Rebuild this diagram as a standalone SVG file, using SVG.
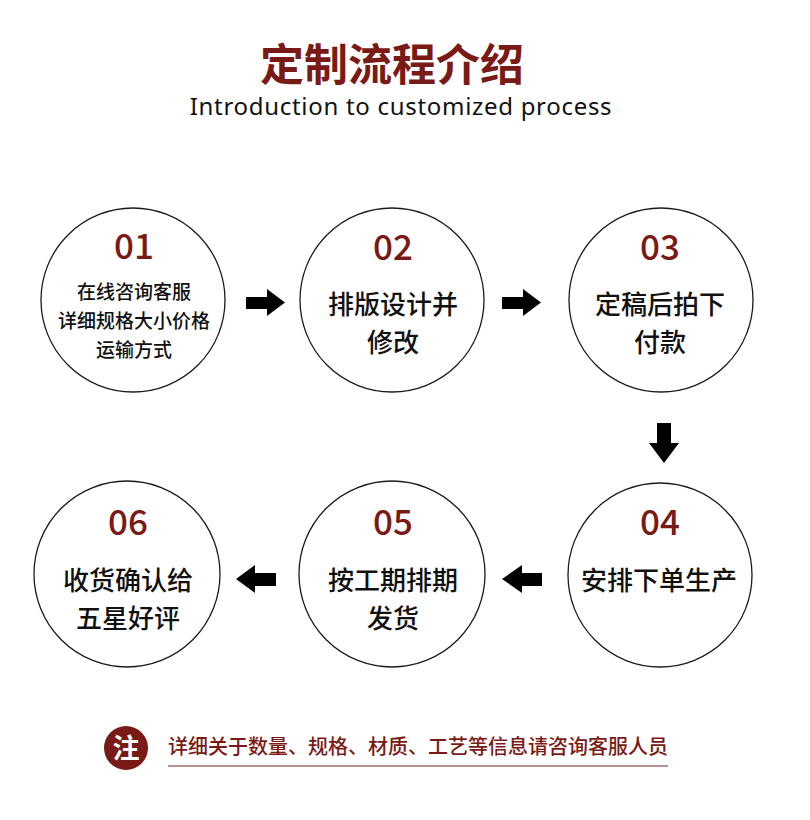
<svg xmlns="http://www.w3.org/2000/svg" width="810" height="820" viewBox="0 0 810 820">
<style>
.circ{fill:#fff;stroke:#1a1a1a;stroke-width:1.3}
.num{font-family:"Noto Sans CJK SC",sans-serif;font-size:35px;fill:#7a1a16;text-anchor:middle;font-weight:500}
.t1{font-family:"Noto Sans CJK SC",sans-serif;font-size:19px;fill:#111;text-anchor:middle;font-weight:500}
.t2{font-family:"Noto Sans CJK SC",sans-serif;font-size:26px;fill:#111;text-anchor:middle;font-weight:500}
.arr{fill:#000}
</style>
<rect width="810" height="820" fill="#fff"/>
<text x="392" y="81" font-family="Noto Sans CJK SC, sans-serif" font-size="44" font-weight="700" fill="#7a1a16" text-anchor="middle">定制流程介绍</text>
<text x="401" y="115" font-family="Noto Sans, sans-serif" font-size="24" letter-spacing="0.7" fill="#111" text-anchor="middle">Introduction to customized process</text>

<g id="node01">
<circle class="circ" cx="133" cy="300" r="92"/>
<text class="num" x="134" y="259">01</text>
<text class="t1" x="134" y="299">在线咨询客服</text>
<text class="t1" x="134" y="328">详细规格大小价格</text>
<text class="t1" x="134" y="357">运输方式</text>
</g>
<g id="node02">
<circle class="circ" cx="392" cy="300" r="92"/>
<text class="num" x="393" y="260">02</text>
<text class="t2" x="393" y="314">排版设计并</text>
<text class="t2" x="393" y="352">修改</text>
</g>
<g id="node03">
<circle class="circ" cx="661" cy="300" r="92"/>
<text class="num" x="660" y="260">03</text>
<text class="t2" x="660" y="314">定稿后拍下</text>
<text class="t2" x="660" y="352">付款</text>
</g>
<g id="node04">
<circle class="circ" cx="660" cy="575" r="92"/>
<text class="num" x="660" y="535">04</text>
<text class="t2" x="659" y="590">安排下单生产</text>
</g>
<g id="node05">
<circle class="circ" cx="392" cy="574" r="93"/>
<text class="num" x="393" y="535">05</text>
<text class="t2" x="393" y="590">按工期排期</text>
<text class="t2" x="393" y="628">发货</text>
</g>
<g id="node06">
<circle class="circ" cx="127" cy="574" r="93"/>
<text class="num" x="128" y="535">06</text>
<text class="t2" x="128" y="590">收货确认给</text>
<text class="t2" x="128" y="628">五星好评</text>
</g>

<g id="connectors">
<polygon class="arr" points="246,297 267,297 267,289 285,302.5 267,316 267,309 246,309"/>
<polygon class="arr" points="502,297 523,297 523,289 541,302.5 523,316 523,309 502,309"/>
<polygon class="arr" points="657,423 671,423 671,443 679,443 664,463 649,443 657,443"/>
<polygon class="arr" points="236,579 255,565 255,573 276,573 276,586 255,586 255,593"/>
<polygon class="arr" points="502,579 522,565 522,573 542,573 542,586 522,586 522,593"/>
</g>

<g id="note">
<circle cx="126" cy="748" r="22" fill="#7a1a16"/>
<text x="126" y="758" font-family="Noto Sans CJK SC, sans-serif" font-size="27" font-weight="700" fill="#fff" text-anchor="middle">注</text>
<text x="168" y="754" font-family="Noto Sans CJK SC, sans-serif" font-size="20" font-weight="500" fill="#7a1a16">详细关于数量、规格、材质、工艺等信息请咨询客服人员</text>
<line x1="168" y1="766" x2="668" y2="766" stroke="#b89290" stroke-width="2"/>
</g>
</svg>
